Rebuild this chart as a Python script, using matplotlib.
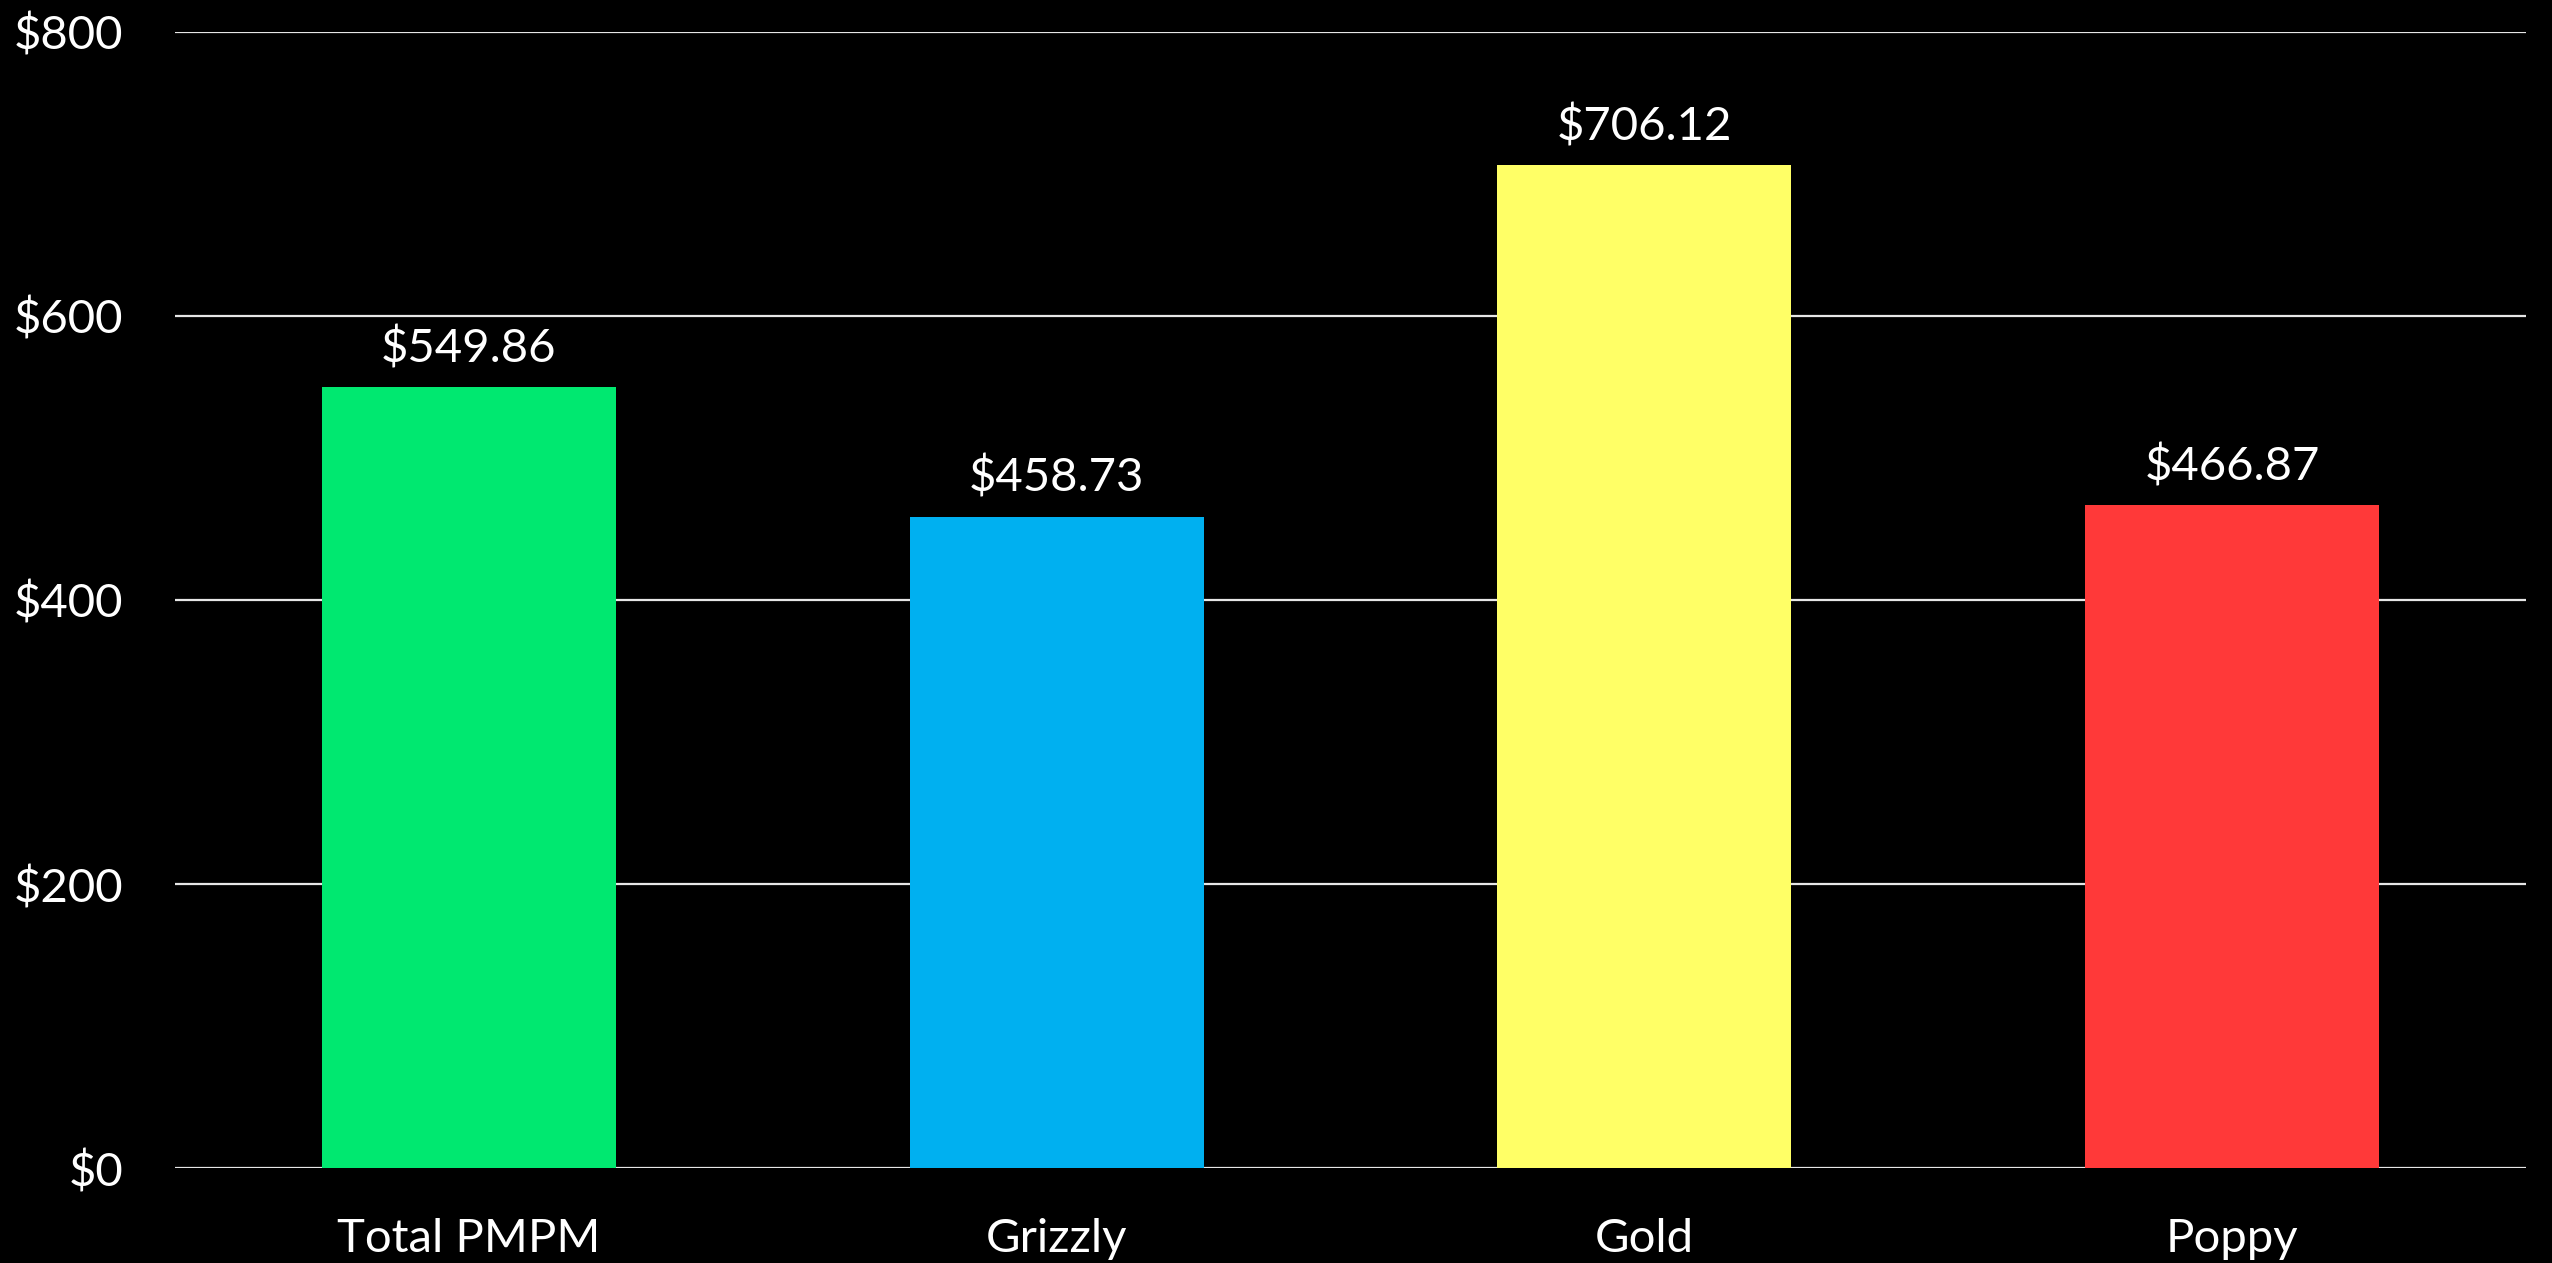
import matplotlib.pyplot as plt
from matplotlib.ticker import FuncFormatter

# PMPM cost by group
categories = ["Total PMPM", "Grizzly", "Gold", "Poppy"]
values = [549.86, 458.73, 706.12, 466.87]
bar_colors = ["#00E870", "#00B0F0", "#FFFF66", "#FF3939"]
y_ticks = [0, 200, 400, 600, 800]

plt.rcParams["font.family"] = ["Lato", "DejaVu Sans"]

fig = plt.figure(figsize=(25.52, 12.63), dpi=100, facecolor="black")
ax = fig.add_axes([0.0686, 0.0752, 0.9212, 0.8995], facecolor="black")

x = range(len(categories))
ax.bar(x, values, width=0.5, color=bar_colors, zorder=2)

ax.set_ylim(0, 800)
ax.set_xlim(-0.5, len(categories) - 0.5)
ax.set_yticks(y_ticks)
ax.yaxis.set_major_formatter(FuncFormatter(lambda v, p: f"${v:,.0f}"))
ax.yaxis.grid(True, color="#E6E6E6", linewidth=1.6, zorder=1)
ax.set_axisbelow(True)

ax.set_xticks(list(x))
ax.set_xticklabels(categories)

ax.tick_params(axis="y", length=0, pad=37, labelsize=34, labelcolor="white")
ax.tick_params(axis="x", length=0, pad=36, labelsize=34, labelcolor="white")

for s in ax.spines.values():
    s.set_visible(False)

# value labels above each bar
for i, v in enumerate(values):
    ax.annotate(f"${v:,.2f}", (i, v), xytext=(0, 18), textcoords="offset points",
                ha="center", va="baseline", fontsize=34, color="white")

fig.savefig("out.png", dpi=100, facecolor="black")
